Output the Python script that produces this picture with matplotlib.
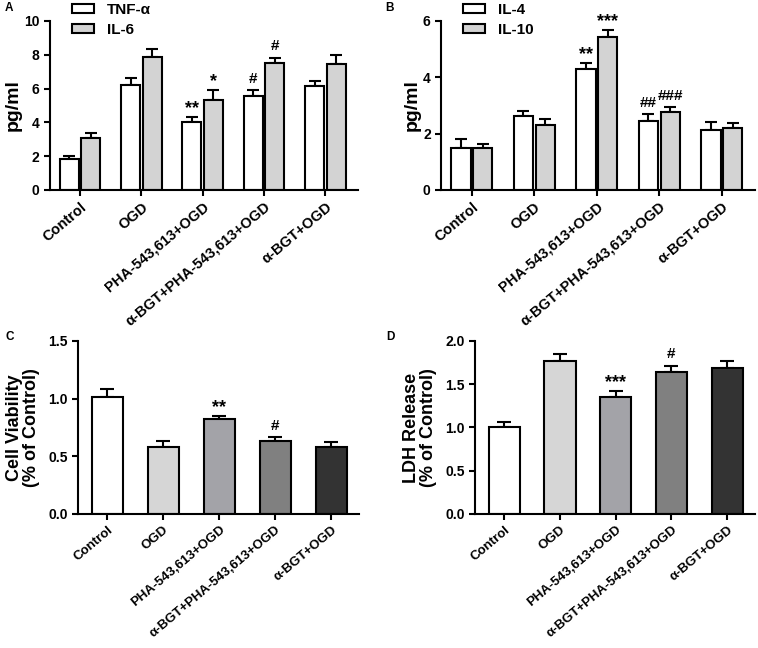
import numpy as np
import matplotlib
matplotlib.use('Agg')
import matplotlib.pyplot as plt

plt.rcParams['font.family'] = ['Liberation Sans', 'DejaVu Sans']
plt.rcParams['font.weight'] = 'bold'
plt.rcParams['axes.labelweight'] = 'bold'

groups = ['Control', 'OGD', 'PHA-543,613+OGD', 'α-BGT+PHA-543,613+OGD', 'α-BGT+OGD']

# panel A
tnf = [1.81, 6.21, 4.04, 5.56, 6.17]
tnf_err = [0.22, 0.43, 0.26, 0.36, 0.30]
il6 = [3.10, 7.87, 5.35, 7.53, 7.47]
il6_err = [0.29, 0.45, 0.55, 0.30, 0.53]
tnf_marks = ['', '', '**', '#', '']
il6_marks = ['', '', '*', '#', '']

# panel B
il4 = [1.50, 2.64, 4.28, 2.46, 2.13]
il4_err = [0.30, 0.16, 0.21, 0.24, 0.27]
il10 = [1.50, 2.30, 5.42, 2.76, 2.19]
il10_err = [0.13, 0.22, 0.26, 0.19, 0.17]
il4_marks = ['', '', '**', '##', '']
il10_marks = ['', '', '***', '###', '']

# panel C
viability = [1.017, 0.583, 0.82, 0.63, 0.58]
viability_err = [0.063, 0.046, 0.03, 0.04, 0.04]
viability_marks = ['', '', '**', '#', '']

# panel D
ldh = [1.0, 1.774, 1.356, 1.636, 1.682]
ldh_err = [0.06, 0.077, 0.06, 0.08, 0.084]
ldh_marks = ['', '', '***', '#', '']

single_colors = ['#ffffff', '#d6d6d6', '#a3a3a8', '#808080', '#333333']
LW = 1.5


def style_axis(ax, yticks, fmt, xlim, xsize):
    ax.spines['top'].set_visible(False)
    ax.spines['right'].set_visible(False)
    ax.spines['left'].set_linewidth(LW)
    ax.spines['bottom'].set_linewidth(LW)
    ax.set_ylim(yticks[0], yticks[-1])
    ax.set_yticks(yticks)
    ax.set_yticklabels([fmt.format(t) for t in yticks], fontsize=10, fontweight='bold')
    ax.set_xlim(*xlim)
    ax.set_xticks(np.arange(len(groups)))
    ax.set_xticklabels(groups, rotation=40, ha='right', rotation_mode='anchor',
                       fontsize=xsize, fontweight='bold')
    ax.tick_params(axis='both', width=LW, length=4, direction='out')
    ax.tick_params(axis='x', pad=3)
    ax.spines['left'].set_bounds(yticks[0], yticks[-1])


def add_marks(ax, xs, vals, errs, marks):
    for x, v, e, m in zip(xs, vals, errs, marks):
        if not m:
            continue
        star = m.startswith('*')
        ax.annotate(m, (x, v + e), xytext=(0, 0 if star else 3), textcoords='offset points',
                    ha='center', va='bottom', fontsize=13 if star else 11,
                    fontweight='bold')


def paired(ax, a, a_err, b, b_err, a_marks, b_marks, labels, yticks):
    x = np.arange(len(groups))
    w = 0.31
    off = 0.175
    xa, xb = x - off, x + off
    ax.errorbar(xa, a, yerr=[np.zeros(len(a)), a_err], fmt='none', ecolor='black',
                elinewidth=LW, capsize=4.5, capthick=LW, zorder=1)
    ax.errorbar(xb, b, yerr=[np.zeros(len(b)), b_err], fmt='none', ecolor='black',
                elinewidth=LW, capsize=4.5, capthick=LW, zorder=1)
    ax.bar(xa, a, w, color='white', edgecolor='black', linewidth=LW, label=labels[0], zorder=2)
    ax.bar(xb, b, w, color='#d3d3d3', edgecolor='black', linewidth=LW, label=labels[1], zorder=2)
    add_marks(ax, xa, a, a_err, a_marks)
    add_marks(ax, xb, b, b_err, b_marks)
    style_axis(ax, yticks, '{:g}', (-0.49, 4.53), 10.5)
    ax.set_ylabel('pg/ml', fontsize=14, labelpad=2)


def single(ax, vals, errs, marks, ylabel, yticks):
    x = np.arange(len(groups))
    ax.errorbar(x, vals, yerr=[np.zeros(len(vals)), errs], fmt='none', ecolor='black',
                elinewidth=LW, capsize=5, capthick=LW, zorder=1)
    ax.bar(x, vals, 0.56, color=single_colors, edgecolor='black', linewidth=LW, zorder=2)
    add_marks(ax, x, vals, errs, marks)
    style_axis(ax, yticks, '{:.1f}', (-0.52, 4.5), 9.5)
    ax.set_ylabel(ylabel, fontsize=13, labelpad=6, linespacing=1.0)


fig = plt.figure(figsize=(7.58, 6.48), dpi=100)
axA = fig.add_axes([0.066, 0.7068, 0.406, 0.261])
axB = fig.add_axes([0.582, 0.7068, 0.414, 0.261])
axC = fig.add_axes([0.103, 0.2068, 0.371, 0.267])
axD = fig.add_axes([0.627, 0.2068, 0.369, 0.267])

paired(axA, tnf, tnf_err, il6, il6_err, tnf_marks, il6_marks, ['TNF-α', 'IL-6'], [0, 2, 4, 6, 8, 10])
paired(axB, il4, il4_err, il10, il10_err, il4_marks, il10_marks, ['IL-4', 'IL-10'], [0, 2, 4, 6])
single(axC, viability, viability_err, viability_marks, 'Cell Viability\n(% of Control)',
       [0.0, 0.5, 1.0, 1.5])
single(axD, ldh, ldh_err, ldh_marks, 'LDH Release\n(% of Control)',
       [0.0, 0.5, 1.0, 1.5, 2.0])

for ax, x0 in [(axA, 63 / 758), (axB, 454 / 758)]:
    ax.legend(loc='upper left', bbox_to_anchor=(x0, 1.0 + 6 / 648), bbox_transform=fig.transFigure,
              frameon=False, handlelength=1.45, handleheight=0.5,
              borderpad=0.1, labelspacing=0.4, handletextpad=0.85,
              prop={'weight': 'bold', 'size': 11})

for label, x, y in [('A', 5, 8), ('B', 385, 8), ('C', 5, 337), ('D', 386, 337)]:
    fig.text(x / 758, 1 - y / 648, label, fontsize=8.5, fontweight='bold', va='center', ha='left')

fig.savefig('out.png', dpi=100)
